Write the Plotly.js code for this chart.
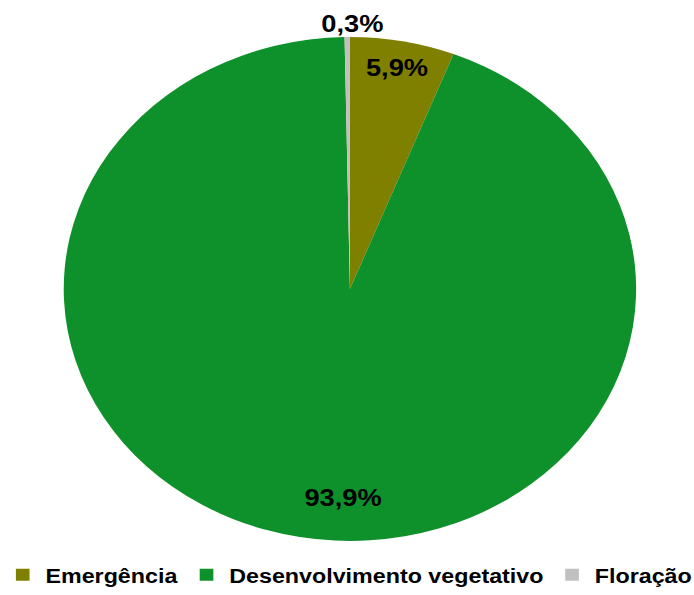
<!DOCTYPE html>
<html>
<head>
<meta charset="utf-8">
<script src="https://cdn.plot.ly/plotly-3.0.1.min.js"></script>
<style>
  html, body { margin: 0; padding: 0; background: #ffffff; overflow: hidden; }
  #wrap { width: 694px; height: 595px; overflow: hidden; }
  #chart { width: 611px; height: 595px; transform: scaleX(1.1358); transform-origin: 0 0; }
</style>
</head>
<body>
<div id="wrap"><div id="chart"></div></div>
<script>
const categories = ['Emergência', 'Desenvolvimento vegetativo', 'Floração'];
const percentValues = [5.9, 93.9, 0.3];
const percentLabels = ['5,9%', '93,9%', '0,3%'];
const sliceColors = ['#808000', '#0e902b', '#c0c0c0'];

const FONT = 'Liberation Sans, Arial, sans-serif';
const CLEAR = ['rgba(0,0,0,0)', 'rgba(0,0,0,0)', 'rgba(0,0,0,0)'];

// Coloured pie
const pieTrace = {
  type: 'pie',
  labels: categories,
  values: percentValues,
  textinfo: 'none',
  sort: false,
  direction: 'clockwise',
  rotation: 0,
  marker: { colors: sliceColors, line: { width: 0 } },
  hoverinfo: 'none',
  domain: { x: [0.0918, 0.9167], y: [0.0908, 0.9378] }
};

// Transparent companion pies that only carry the percentage labels
function labelPie(showIdx, hole, rotation, domain) {
  return {
    type: 'pie',
    labels: categories,
    values: percentValues,
    text: percentLabels.map((t, i) => (i === showIdx ? t : '')),
    textinfo: 'text',
    textposition: 'inside',
    insidetextorientation: 'horizontal',
    sort: false,
    direction: 'clockwise',
    rotation: rotation,
    hole: hole,
    showlegend: false,
    marker: { colors: CLEAR, line: { width: 0 } },
    insidetextfont: { family: FONT, size: 24, color: '#000000', weight: 'bold' },
    textfont: { family: FONT, size: 24, color: '#000000', weight: 'bold' },
    hoverinfo: 'none',
    domain: domain
  };
}

const labelEmergencia = labelPie(0, 0.57, 0, { x: [0.0681, 0.9404], y: [0.0664, 0.9622] });
const labelDesenv = labelPie(1, 0.548, -8.4, { x: [0.0624, 0.9462], y: [0.0605, 0.9681] });
const labelFloracao = labelPie(2, 0.57, 1, { x: [0.0656, 0.9429], y: [0.0639, 0.9647] });

const layout = {
  width: 611,
  height: 595,
  margin: { l: 0, r: 0, t: 0, b: 0 },
  paper_bgcolor: '#ffffff',
  showlegend: true,
  uniformtext: { mode: 'show', minsize: 24 },
  legend: {
    orientation: 'h',
    x: 0, xanchor: 'left',
    y: 0, yanchor: 'bottom',
    font: { family: FONT, size: 20.5, color: '#000000', weight: 'bold' },
    itemwidth: 30,
    traceorder: 'normal'
  }
};

Plotly.newPlot('chart', [pieTrace, labelEmergencia, labelDesenv, labelFloracao], layout,
  { displayModeBar: false, staticPlot: true });
</script>
</body>
</html>
